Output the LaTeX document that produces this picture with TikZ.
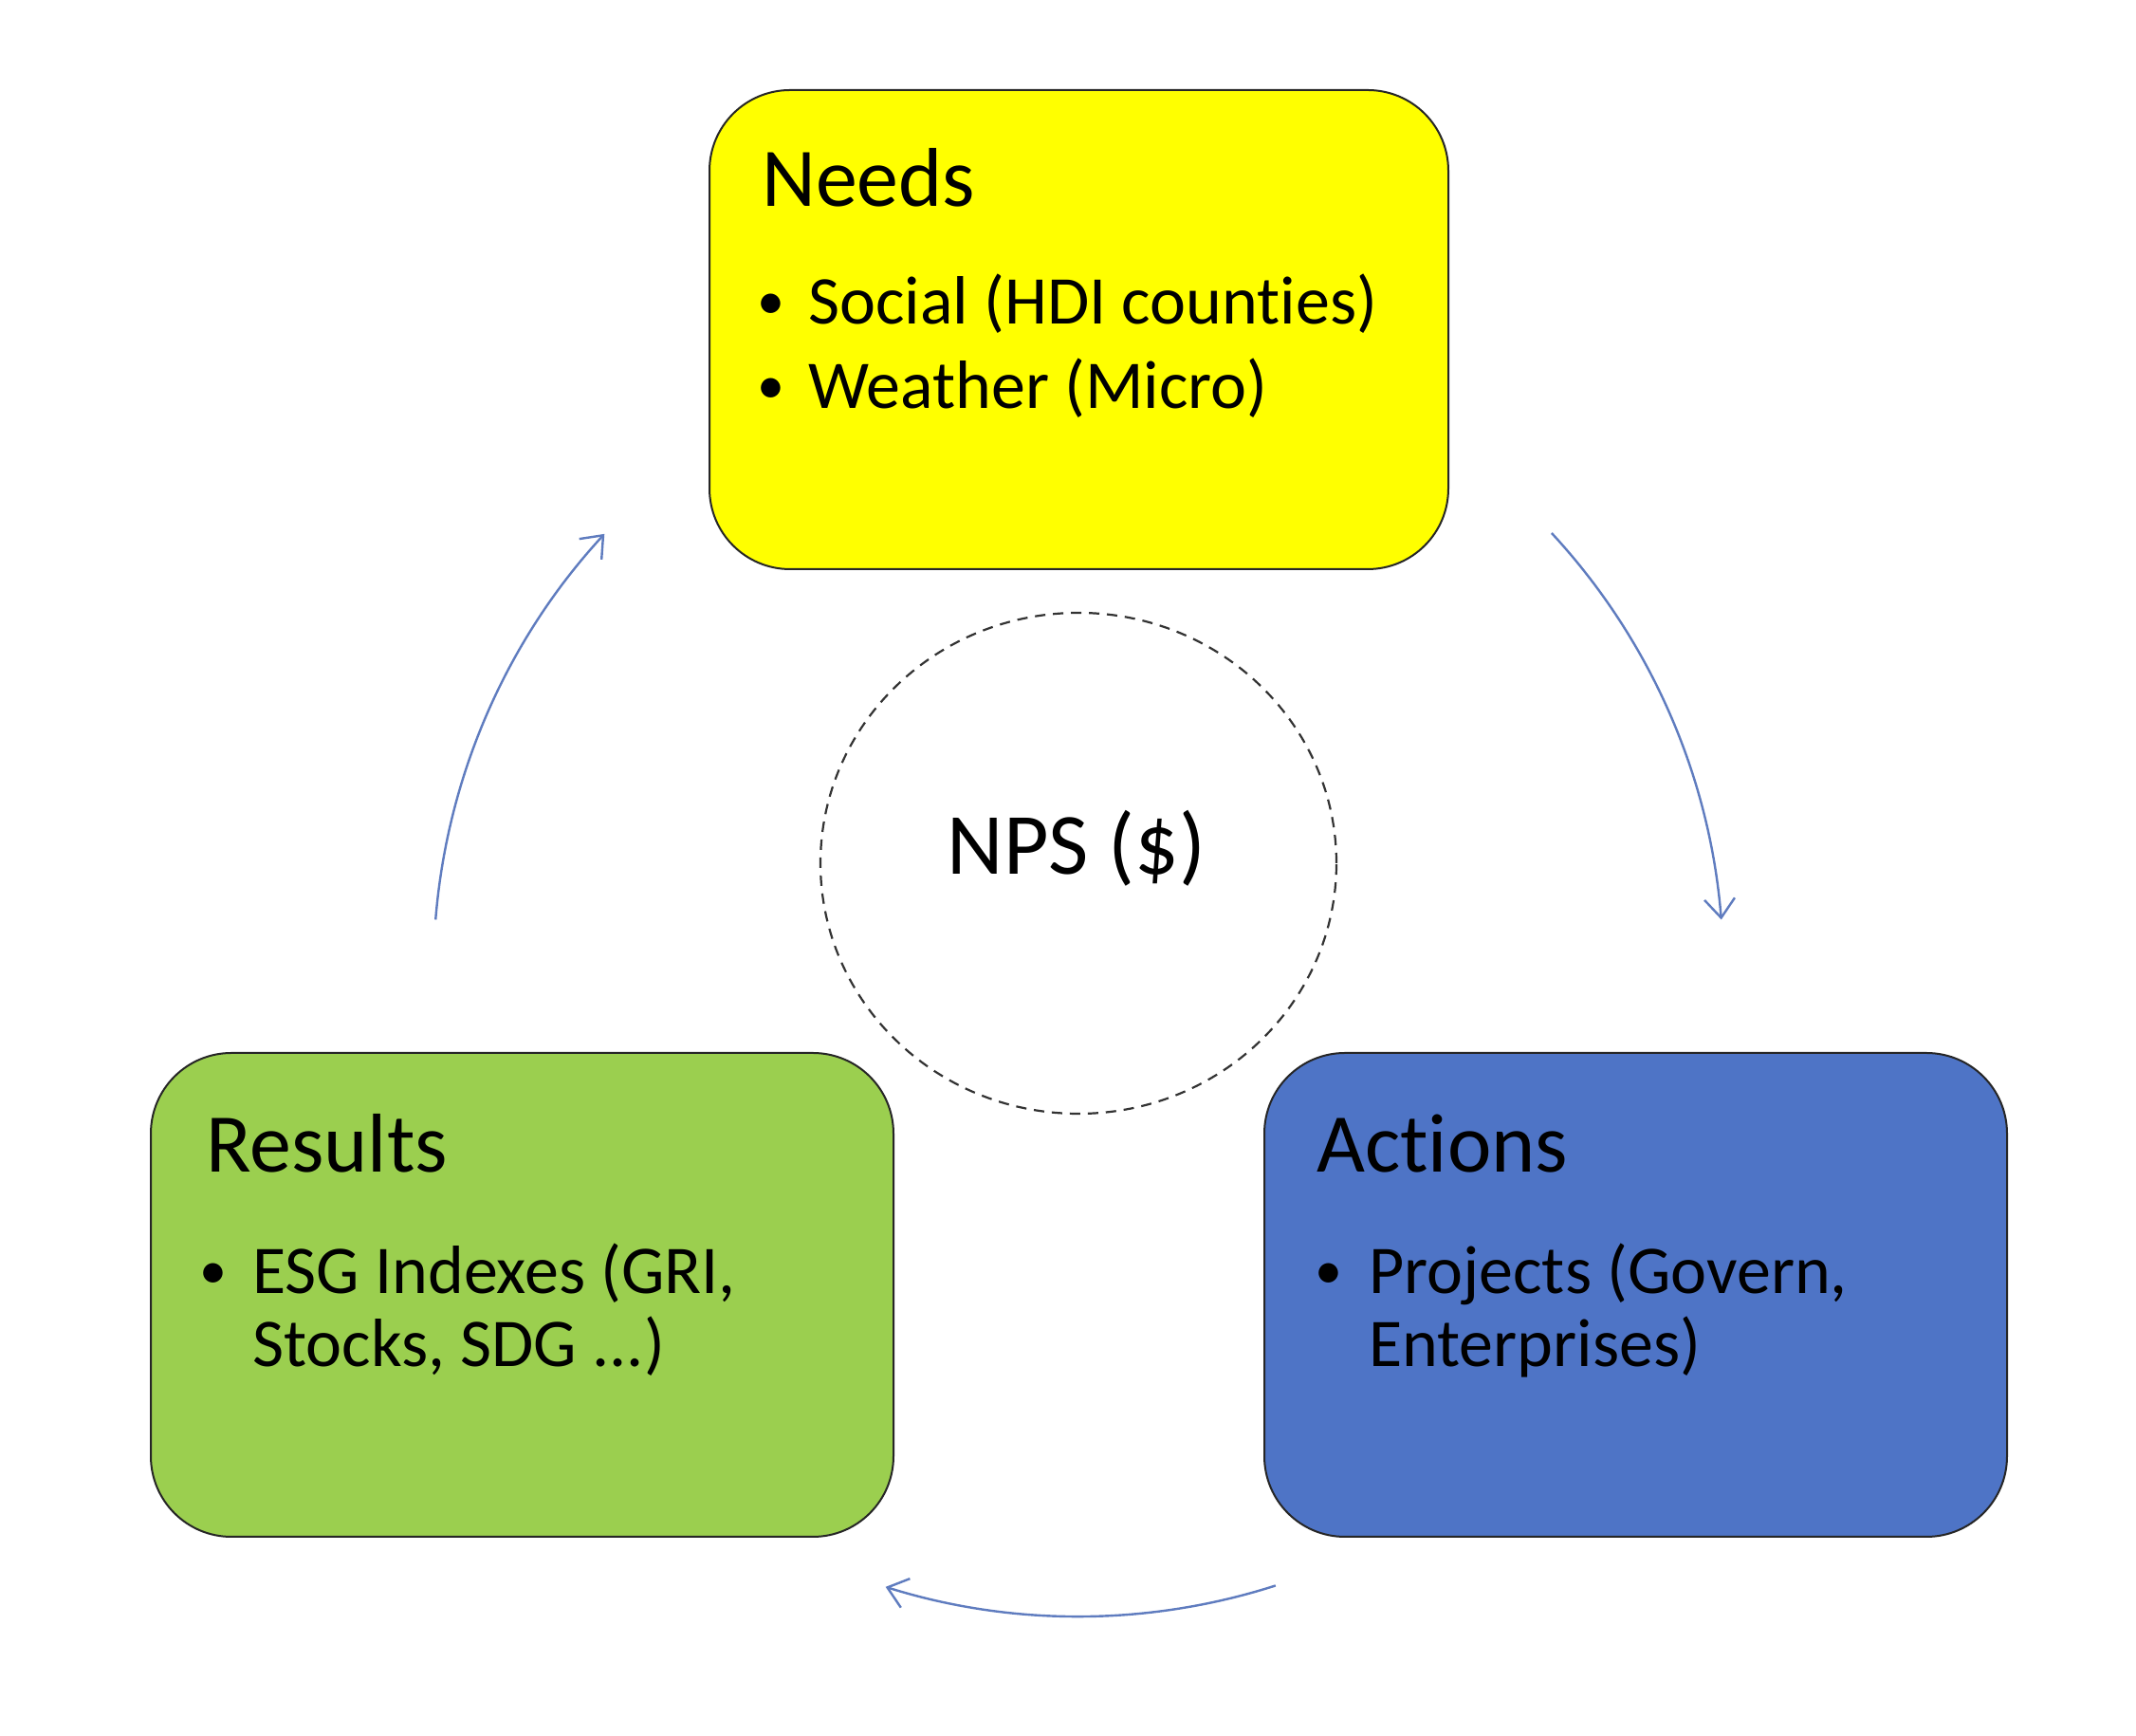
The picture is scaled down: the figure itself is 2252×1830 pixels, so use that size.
\documentclass[tikz,border=0pt]{standalone}
\usepackage{fontspec}
\setmainfont[Ligatures={NoCommon}]{Carlito}
\usetikzlibrary{arrows.meta,shapes.geometric}
\definecolor{needsyellow}{HTML}{FFFF00}
\definecolor{resgreen}{HTML}{9BCF4F}
\definecolor{actblue}{HTML}{4E74C6}
\definecolor{arrowblue}{HTML}{5F7CBF}
\begin{document}
\begin{tikzpicture}[x=1pt,y=1pt,
  box/.style={draw=black!85, line width=2pt, rounded corners=85pt, inner sep=0pt},
  title/.style={anchor=base west, inner sep=0pt, font=\fontsize{88}{100}\selectfont},
  item/.style={anchor=base west, inner sep=0pt, font=\fontsize{72}{86}\selectfont},
  bul/.style={anchor=center, inner sep=0pt, font=\fontsize{58}{70}\selectfont},
  cyclearrow/.style={draw=arrowblue, line width=2.4pt, -{Straight Barb[length=20pt,width=32pt]}}]
\useasboundingbox (0,0) rectangle (2252,1830);
\fill[white] (0,0) rectangle (2252,1830);

% boxes
\node[box, fill=needsyellow, minimum width=779pt, minimum height=505pt] (needs) at (1137.5,1482.5) {};
\node[box, fill=resgreen, minimum width=783pt, minimum height=510pt] (results) at (550.5,465) {};
\node[box, fill=actblue, minimum width=783pt, minimum height=510pt] (actions) at (1724.5,465) {};

% center dashed circle
\node[draw=black!80, line width=2.2pt, dash pattern=on 11pt off 8pt, ellipse,
      minimum width=544pt, minimum height=528pt, inner sep=0pt] (npsc) at (1137,920) {};
\node[anchor=base, inner sep=0pt, font=\fontsize{92}{110}\selectfont] (npst) at (1135,908) {NPS (\$)};

% Needs text
\node[title] (needsT) at (803,1612) {Needs};
\node[bul] (needsB1) at (813,1507) {•};
\node[item] (needsI1) at (852,1488) {Social (HDI counties)};
\node[bul] (needsB2) at (813,1418) {•};
\node[item] (needsI2) at (852,1399) {Weather (Micro)};

% Results text
\node[title] (resT) at (217,594) {Results};
\node[bul] (resB1) at (225,485) {•};
\node[item] (resI1) at (266,466) {ESG Indexes (GRI,};
\node[item] (resI2) at (266,389) {Stocks, SDG ...)};

% Actions text
\node[title] (actT) at (1388,594) {Actions};
\node[bul] (actB1) at (1401,485) {•};
\node[item] (actI1) at (1443,466) {Projects (Govern,};
\node[item] (actI2) at (1443,389) {Enterprises)};

% cycle arrows
\coordinate (cyc) at (1137,806);
\coordinate (leftStart) at ([shift={(175.4:680)}]cyc);
\coordinate (rightStart) at ([shift={(42.8:680)}]cyc);
\coordinate (bottomStart) at ([shift={(-72.2:680)}]cyc);
\draw[cyclearrow] (leftStart) arc[start angle=175.4, end angle=137.3, radius=680];
\draw[cyclearrow] (rightStart) arc[start angle=42.8, end angle=4.6, radius=680];
\draw[cyclearrow] (bottomStart) arc[start angle=-72.2, end angle=-107.4, radius=680];
\end{tikzpicture}
\end{document}
